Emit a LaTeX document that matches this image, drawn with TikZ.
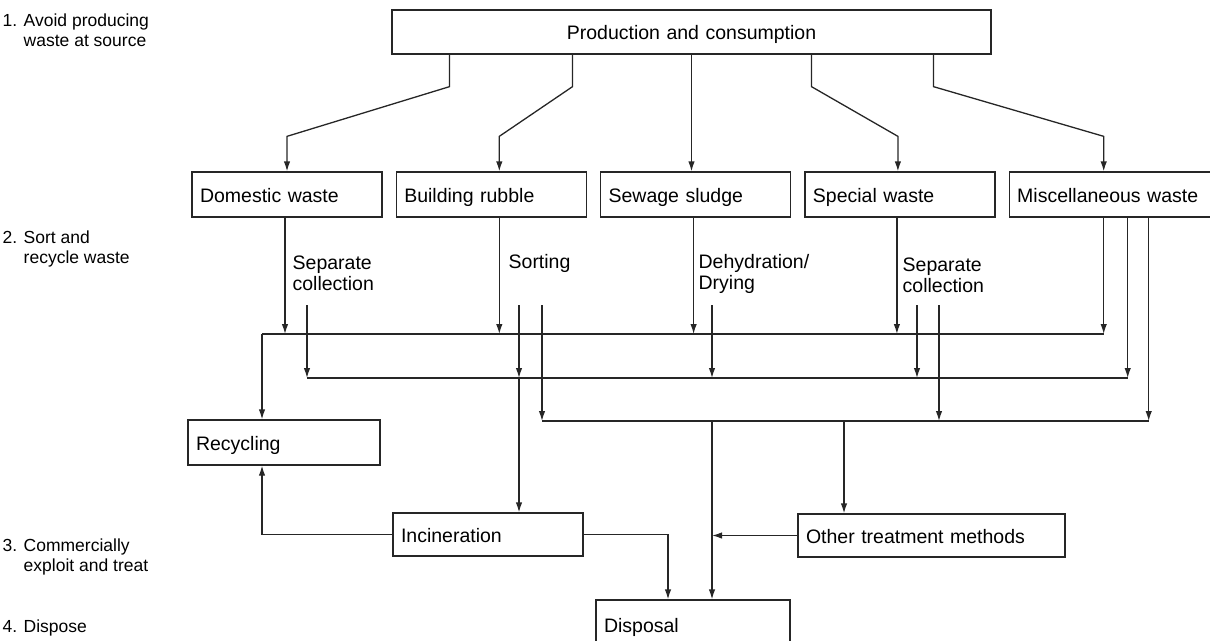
\documentclass[tikz,border=0pt]{standalone}
\usepackage{fontspec}
\setmainfont{Liberation Sans}
\usetikzlibrary{positioning}
\usetikzlibrary{arrows.meta}

\tikzset{
  wbox/.style={draw,rectangle,minimum width=190pt,minimum height=45pt,inner xsep=8pt,inner ysep=2pt,
    text width=174pt,text height=18pt,text depth=3pt,align=left,font=\fontsize{19.5}{21}\selectfont},
  stage/.style={anchor=west,inner sep=0pt,align=left,font=\fontsize{17.5}{20}\selectfont},
  flow/.style={anchor=west,inner sep=0pt,align=left,font=\fontsize{19.5}{21}\selectfont},
}

\begin{document}
\begin{tikzpicture}[x=1pt,y=-1pt,line width=1.3pt,draw=black!85,>={Latex[length=10pt,width=6.5pt]}]
  \useasboundingbox (0,0) rectangle (1210,640);

  % the four stages
  \node (stage1) [stage] at (2,30) {1. Avoid producing\\\phantom{1. }waste at source};
  \node (stage2) [stage] at (2,249) {2. Sort and\\\phantom{2. }recycle waste};
  \node (stage3) [stage] at (2,557) {3. Commercially\\\phantom{3. }exploit and treat};
  \node (stage4) [stage] at (2,628) {4. Dispose};

  % boxes
  \node (prod) [wbox,minimum width=599pt,text width=583pt,align=center,minimum height=44pt] at (691.5,32) {Production and consumption};
  \node (dom) [wbox] at (287,194.5) {Domestic waste};
  \node (rubble) [wbox,right=13pt of dom] {Building rubble};
  \node (sludge) [wbox,right=13pt of rubble] {Sewage sludge};
  \node (special) [wbox,right=13pt of sludge] {Special waste};
  \node (misc) [wbox,right=13pt of special,text width=185pt] {Miscellaneous waste};
  \node (recyc) [wbox,text width=176pt] at (284,442.5) {Recycling};
  \node (incin) [wbox,minimum height=43pt] at (488,534.5) {Incineration};
  \node (other) [wbox,text width=251pt,minimum height=43pt] at (931.5,535.5) {Other treatment methods};
  \node (disp) [wbox,text width=178pt,minimum height=50pt] at (693,625) {Disposal};

  % what happens on the way down
  \node (sep1) [flow] at (292,273) {Separate\\collection};
  \node (sort) [flow] at (508,263) {Sorting};
  \node (dry) [flow] at (698,274) {Dehydration/\\Drying};
  \node (sep2) [flow] at (902,275) {Separate\\collection};

  % fan out from production
  \draw [->] ([xshift=-242pt]prod.south) -- ++(0,32) -- ([yshift=35pt]dom.north) -- (dom.north);
  \draw [->] ([xshift=-119pt]prod.south) -- ++(0,32) -- ([xshift=8pt,yshift=35pt]rubble.north) -- ([xshift=8pt]rubble.north);
  \draw [->] (prod.south) -- (prod.south |- sludge.north);
  \draw [->] ([xshift=120pt]prod.south) -- ++(0,32) -- ([xshift=-2pt,yshift=35pt]special.north) -- ([xshift=-2pt]special.north);
  \draw [->] ([xshift=242pt]prod.south) -- ++(0,32) -- ([xshift=-6pt,yshift=35pt]misc.north) -- ([xshift=-6pt]misc.north);

  % collecting lines
  \coordinate (busA) at (262,334);
  \coordinate (busB) at (307,378);
  \coordinate (busC) at (542,421);
  \coordinate (domA) at ([xshift=-2pt]dom.south);
  \coordinate (domB) at (307,305);
  \coordinate (rubA) at ([xshift=8pt]rubble.south);
  \coordinate (rubB) at (519,305);
  \coordinate (rubC) at (542,305);
  \coordinate (sluA) at ([xshift=-2pt]sludge.south);
  \coordinate (sluB) at (712,305);
  \coordinate (speA) at ([xshift=-3pt]special.south);
  \coordinate (speB) at (917,305);
  \coordinate (speC) at (939,305);
  \coordinate (misA) at ([xshift=-6pt]misc.south);
  \coordinate (misB) at ([xshift=18pt]misc.south);
  \coordinate (misC) at ([xshift=39pt]misc.south);
  \coordinate (busCother) at (844,421);

  \draw (busA) -- (misA |- busA);
  \draw (busB) -- (misB |- busB);
  \draw (busC) -- (misC |- busC);

  \draw [->] (domA) -- (domA |- busA);
  \draw [->] (domB) -- (domB |- busB);
  \draw [->] (rubA) -- (rubA |- busA);
  \draw [->] (rubB) -- (rubB |- busB);
  \draw [->] (rubC) -- (rubC |- busC);
  \draw [->] (sluA) -- (sluA |- busA);
  \draw [->] (sluB) -- (sluB |- busB);
  \draw [->] (speA) -- (speA |- busA);
  \draw [->] (speB) -- (speB |- busB);
  \draw [->] (speC) -- (speC |- busC);
  \draw [->] (misA) -- (misA |- busA);
  \draw [->] (misB) -- (misB |- busB);
  \draw [->] (misC) -- (misC |- busC);

  % into treatment and disposal
  \draw [->] (busA) -- (busA |- recyc.north);
  \draw [->] (rubB |- busB) -- (rubB |- incin.north);
  \draw [->] (sluB |- busC) -- (sluB |- disp.north);
  \draw [->] (busCother) -- (busCother |- other.north);
  \draw [->] (incin.west) -| (busA |- recyc.south);
  \draw [->] (incin.east) -| ([xshift=-25pt]disp.north);
  \draw [->] (other.west) -- (other.west -| sluB);
\end{tikzpicture}
\end{document}
